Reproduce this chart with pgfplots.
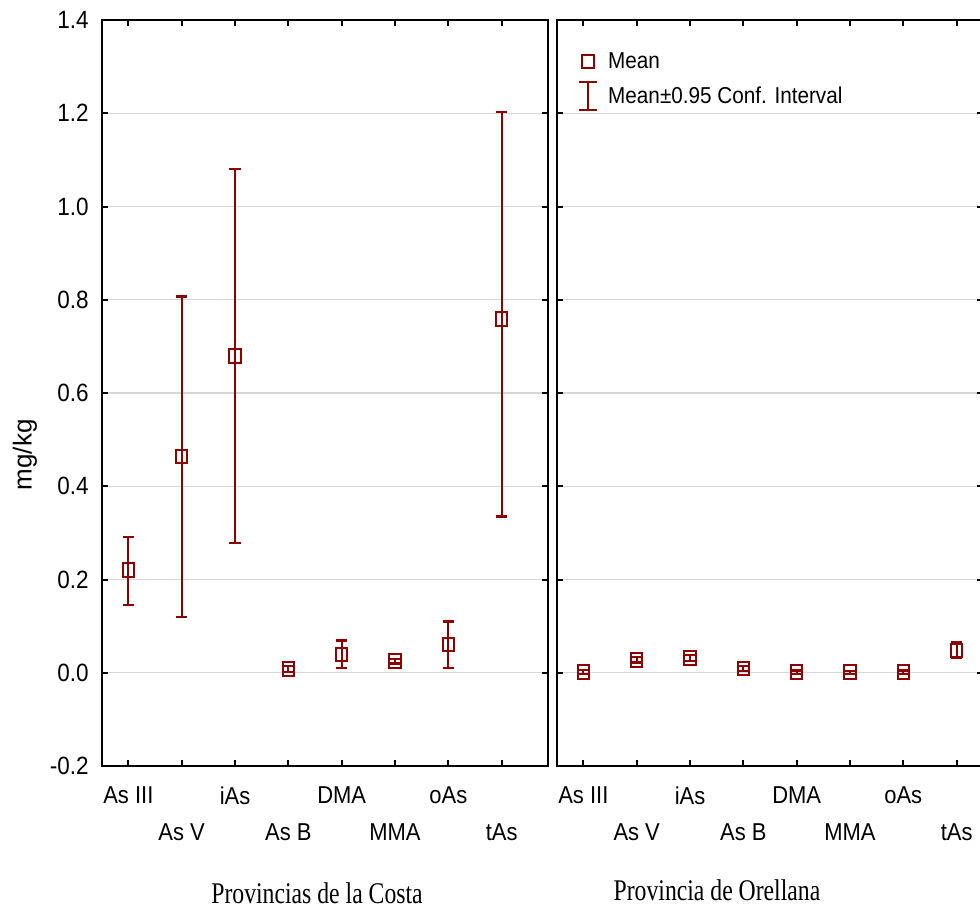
\documentclass[border=0pt]{standalone}
\usepackage{fontspec}
\setmainfont{Liberation Sans}[FakeStretch=0.9]
\newfontfamily\tnr{Liberation Serif}[FakeStretch=0.79]
\newfontfamily\arialplain{Liberation Sans}
\usepackage{pgfplots}
\usepackage{pgfplotstable}
\pgfplotsset{compat=1.18}

\definecolor{darkred}{RGB}{139,0,0}
\definecolor{gridgray}{RGB}{215,215,215}

% mean, +CI, -CI (mg/kg)
\pgfplotstableread{
x m ep em
0 0.221 0.070 0.075
1 0.464 0.343 0.345
2 0.679 0.402 0.401
3 0.008 0.006 0.006
4 0.039 0.030 0.028
5 0.025 0.005 0.005
6 0.061 0.049 0.050
7 0.759 0.443 0.424
}\costa

\pgfplotstableread{
x m ep em
0 0.002 0.004 0.004
1 0.028 0.006 0.006
2 0.032 0.006 0.006
3 0.009 0.006 0.006
4 0.001 0.004 0.004
5 0.001 0.003 0.003
6 0.001 0.004 0.004
7 0.048 0.017 0.017
}\orellana

\pgfplotsset{
  panel/.style={
    scale only axis, height=373pt,
    ymin=-0.2, ymax=1.4,
    ytick={-0.2,0,0.2,0.4,0.6,0.8,1.0,1.2,1.4},
    xtick={0,...,7},
    xticklabels={As III,{\mbox{}\\[12.5pt]As V},iAs,{\mbox{}\\[12.5pt]As B},DMA,{\mbox{}\\[12.5pt]MMA},oAs,{\mbox{}\\[12.5pt]tAs}},
    xticklabel style={align=center, anchor=north, font=\fontsize{12.2}{14}\selectfont, yshift=-7pt},
    yticklabel style={font=\fontsize{12.5}{14}\selectfont, xshift=-3pt},
    /pgf/number format/.cd, fixed, fixed zerofill, precision=1, assume math mode=true,
    /pgfplots/.cd,
    axis line style={line width=1pt},
    every tick/.style={black, line width=1pt},
    major tick length=3pt,
    ymajorgrids, grid style={gridgray, line width=0.6pt},
  },
  cimarks/.style={
    darkred, only marks, mark=square, mark size=3.4pt,
    mark options={xscale=0.85, line width=1pt, solid},
    error bars/.cd, y dir=both, y explicit,
    error bar style={line width=1.1pt, darkred},
    error mark options={rotate=90, darkred, line width=1.1pt, mark size=2.8pt},
    /pgfplots/.cd,
  },
  ibeam/.style={legend image code/.code={
    \draw[##1] (0.3cm,-7pt) -- (0.3cm,7pt) (0.3cm-4.5pt,-7pt) -- (0.3cm+4.5pt,-7pt) (0.3cm-4.5pt,7pt) -- (0.3cm+4.5pt,7pt);}},
}

\begin{document}
\begin{tikzpicture}
\path[use as bounding box] (-50.85pt,-73pt) rectangle (439.15pt,383pt);

\begin{axis}[panel,
  at={(0pt,0pt)}, anchor=south west,
  width=222.9pt, xmin=-0.5, xmax=7.86,
  ylabel={mg/kg},
  ylabel style={font=\arialplain\fontsize{13}{15}\selectfont, at={(axis description cs:-0.172,0.417)}, anchor=center},
  xlabel={Provincias de la Costa},
  xlabel style={font=\tnr\fontsize{15}{17}\selectfont, at={(axis description cs:0.483,-0.170)}, anchor=center},
]
\addplot[cimarks] table[x=x, y=m, y error plus=ep, y error minus=em]{\costa};
\end{axis}

\begin{axis}[panel,
  at={(227.5pt,0pt)}, anchor=south west,
  width=213.3pt, xmin=-0.5, xmax=7.5,
  yticklabels={},
  xlabel={Provincia de Orellana},
  xlabel style={font=\tnr\fontsize{15}{17}\selectfont, at={(axis description cs:0.3757,-0.166)}, anchor=center},
  legend style={at={(axis description cs:0.035,0.968)}, anchor=north west, draw=none, fill=none,
    font=\fontsize{11.5}{13}\selectfont, row sep=3pt, column sep=3pt, legend cell align=left},
]
\addlegendimage{darkred, only marks, mark=square, mark size=3.4pt, mark options={xscale=0.85, line width=1pt}}
\addlegendimage{darkred, line width=1.1pt, ibeam}
\addplot[cimarks, forget plot] table[x=x, y=m, y error plus=ep, y error minus=em]{\orellana};
\legend{Mean, Mean±0.95 Conf. Interval}
\end{axis}
\end{tikzpicture}
\end{document}
